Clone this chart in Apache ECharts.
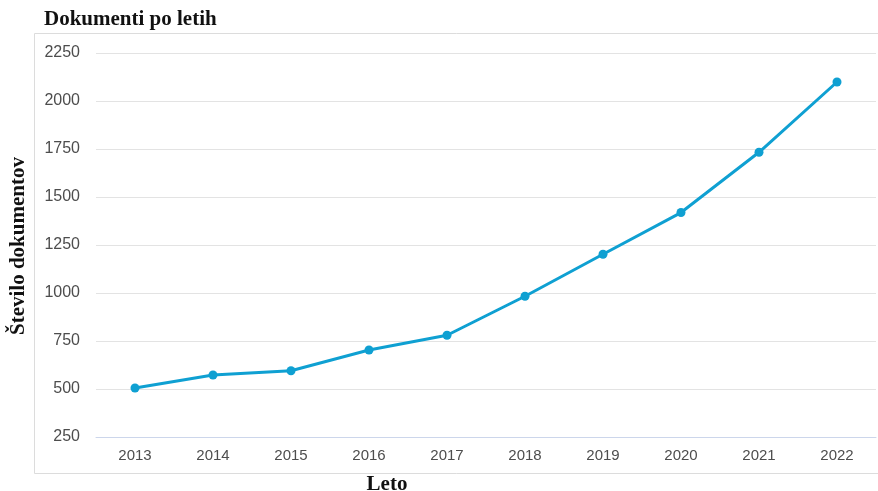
<!DOCTYPE html>
<html>
<head>
<meta charset="utf-8">
<script src="https://cdn.jsdelivr.net/npm/echarts@6/dist/echarts.min.js"></script>
<style>html,body{margin:0;padding:0;background:#fff;}#c{width:878px;height:491px;}</style>
</head>
<body>
<div id="c"></div>
<script>
const years = ['2013','2014','2015','2016','2017','2018','2019','2020','2021','2022'];
const documents = [505, 573, 595, 703, 780, 983, 1202, 1419, 1733, 2099];
const yTicks = {min: 250, max: 2250, step: 250};
const titleText = 'Dokumenti po letih';
const yName = 'Število dokumentov';
const xName = 'Leto';

const chart = echarts.init(document.getElementById('c'), null, {renderer: 'canvas'});
chart.setOption({
  animation: false,
  backgroundColor: '#fff',
  grid: {left: 96, right: 2, top: 53, bottom: 54},
  graphic: [
    {type: 'rect', shape: {x: 34.5, y: 33.5, width: 900, height: 440}, style: {fill: 'none', stroke: '#dcdcdc', lineWidth: 1}, z: -1},
    {type: 'text', x: 44, y: 20, style: {text: titleText, font: 'bold 21px "Liberation Serif", serif', fill: '#111', verticalAlign: 'middle'}},
    {type: 'text', x: 19, y: 246, rotation: Math.PI / 2, style: {text: yName, font: 'bold 21px "Liberation Serif", serif', fill: '#111', align: 'center', verticalAlign: 'middle'}},
    {type: 'text', x: 387, y: 485, style: {text: xName, font: 'bold 21px "Liberation Serif", serif', fill: '#111', align: 'center', verticalAlign: 'middle'}}
  ],
  xAxis: {
    type: 'category',
    data: years,
    boundaryGap: true,
    axisLine: {show: true, lineStyle: {color: '#ccd6eb', width: 1}},
    axisTick: {show: false},
    axisLabel: {margin: 11, color: '#4d4d4d', fontSize: 15, fontFamily: 'Liberation Sans, Arial, sans-serif'}
  },
  yAxis: {
    type: 'value',
    min: yTicks.min, max: yTicks.max, interval: yTicks.step,
    axisLine: {show: false},
    axisTick: {show: false},
    axisLabel: {margin: 16, color: '#4d4d4d', fontSize: 16, fontFamily: 'Liberation Sans, Arial, sans-serif', formatter: function (v) { return String(v); }},
    splitLine: {show: true, lineStyle: {color: '#e3e3e3', width: 1}}
  },
  series: [{
    type: 'line',
    data: documents,
    symbol: 'circle',
    symbolSize: 9,
    lineStyle: {color: '#0fa0d2', width: 3},
    itemStyle: {color: '#0fa0d2'}
  }]
});
</script>
</body>
</html>
